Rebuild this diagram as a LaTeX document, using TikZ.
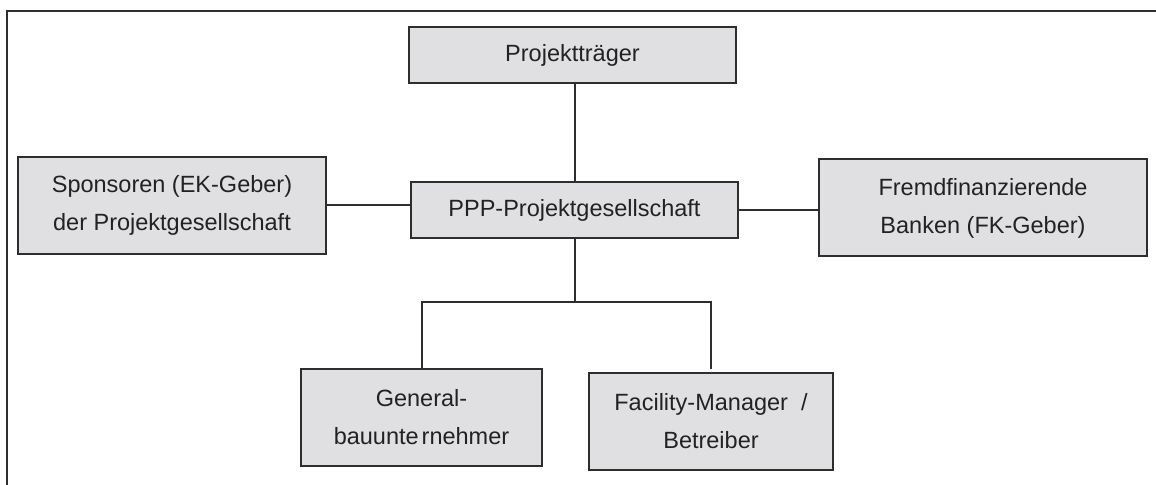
\documentclass[tikz,border=0pt]{standalone}
\usepackage{fontspec}
\setmainfont{Liberation Sans}
\usepackage{xcolor}
\usetikzlibrary{positioning}
\definecolor{boxFill}{HTML}{E0E0E2}
\definecolor{boxLine}{HTML}{2E2E2E}
\definecolor{boxText}{HTML}{222222}

\begin{document}
\begin{tikzpicture}[
  x=0.5pt, y=-0.5pt,
  party/.style={draw=boxLine, fill=boxFill, line width=1pt, text=boxText,
                font=\fontsize{11.75}{19}\selectfont, align=center,
                inner sep=0pt, minimum width=#1, minimum height=48.5pt},
  link/.style={draw=boxLine, line width=1pt},
]
  \useasboundingbox (0,0) rectangle (1156,485);
  \draw[link] (7,485) -- (7,11) -- (1156,11);

  \node[party=163.5pt, minimum height=28pt] (ppp) at (574.5,210) {PPP-Projektgesellschaft};
  \node[party=163.5pt, minimum height=28pt] (traeger) at (572.5,55) {Projektträger};
  \node[party=154pt] (sponsor) at (172,205.5) {Sponsoren (EK-Geber)\\der Projektgesellschaft};
  \node[party=164pt] (banken) at (983,208) {Fremdfinanzierende\\Banken (FK-Geber)};
  \node[party=120.5pt] (gu) at (421.5,417.5) {General-\\bauunte\kern1.5pt rnehmer};
  \node[party=122pt] (fm) at (711,421.5) {Facility-Manager~ /\\Betreiber};

  \coordinate (fork) at (574.5,302);
  \draw[link] (ppp.north) -- (ppp.north |- traeger.south);
  \draw[link] (sponsor.east) -- (sponsor.east -| ppp.west);
  \draw[link] (ppp.east) -- (ppp.east -| banken.west);
  \draw[link] (ppp.south) -- (fork);
  \draw[link] (gu.north) |- (fork) -| ([yshift=1.5pt]fm.north);
\end{tikzpicture}
\end{document}
